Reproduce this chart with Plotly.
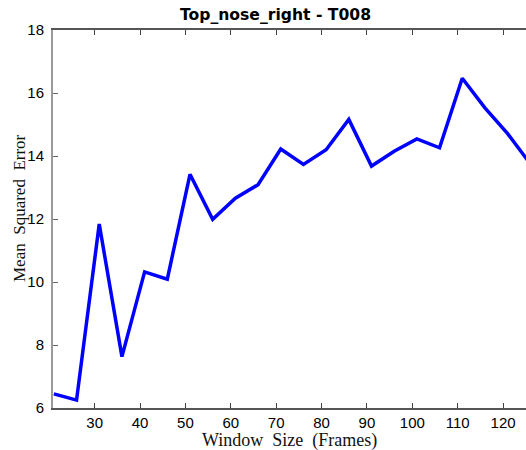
import plotly.graph_objects as go

# Window sizes (frames) and the mean squared error obtained for each
window_sizes = [21, 26, 31, 36, 41, 46, 51, 56, 61, 66, 71, 76, 81, 86,
                91, 96, 101, 106, 111, 116, 121, 126]
mse_values = [6.45, 6.25, 11.84, 7.63, 10.32, 10.09, 13.42, 11.99, 12.66,
              13.09, 14.22, 13.73, 14.20, 15.16, 13.68, 14.15, 14.54, 14.26,
              16.47, 15.53, 14.71, 13.75]

x_ticks = [30, 40, 50, 60, 70, 80, 90, 100, 110, 120]
y_ticks = [6, 8, 10, 12, 14, 16, 18]

fig = go.Figure(
    go.Scatter(
        x=window_sizes,
        y=mse_values,
        mode="lines",
        line=dict(color="#0000FF", width=3.5),
        showlegend=False,
        hoverinfo="skip",
    )
)

tick_font = dict(family="Liberation Sans, Arial, sans-serif", size=15, color="#000000")
serif = "Liberation Serif, Times New Roman, serif"

fig.update_layout(
    width=526,
    height=450,
    margin=dict(l=53, r=0, t=30, b=42),
    paper_bgcolor="white",
    plot_bgcolor="white",
    title=dict(
        text="<b>Top_nose_right - T008</b>",
        x=275.5 / 526,
        xanchor="center",
        y=1 - 15 / 450,
        yanchor="middle",
        font=dict(family="DejaVu Sans", size=15.6, color="#000000"),
    ),
    xaxis=dict(
        range=[20.81, 125.05],
        tickvals=x_ticks,
        ticktext=[str(v) for v in x_ticks],
        ticks="inside",
        ticklen=5,
        tickwidth=1,
        tickcolor="#444444",
        showline=True,
        linecolor="#555555",
        linewidth=1.5,
        mirror="ticks",
        showgrid=False,
        zeroline=False,
        tickfont=tick_font,
    ),
    yaxis=dict(
        range=[6, 18],
        tickvals=y_ticks,
        ticktext=[str(v) for v in y_ticks],
        ticks="inside",
        ticklen=5,
        tickwidth=1,
        tickcolor="#666666",
        showline=True,
        linecolor="#9a9a9a",
        linewidth=2,
        showgrid=False,
        zeroline=False,
        tickfont=tick_font,
        ticklabelstandoff=4,
    ),
    annotations=[
        dict(
            text="Window  Size  (Frames)",
            xref="paper", yref="paper",
            x=(289 - 53) / 473, y=-32 / 378,
            xanchor="center", yanchor="middle",
            showarrow=False,
            font=dict(family=serif, size=18, color="#111111"),
        ),
        dict(
            text="Mean  Squared  Error",
            xref="paper", yref="paper",
            x=-34 / 473, y=(408 - 208) / 378,
            xanchor="center", yanchor="middle",
            textangle=-90,
            showarrow=False,
            font=dict(family=serif, size=17, color="#111111"),
        ),
    ],
)

fig.write_html("out.html")
